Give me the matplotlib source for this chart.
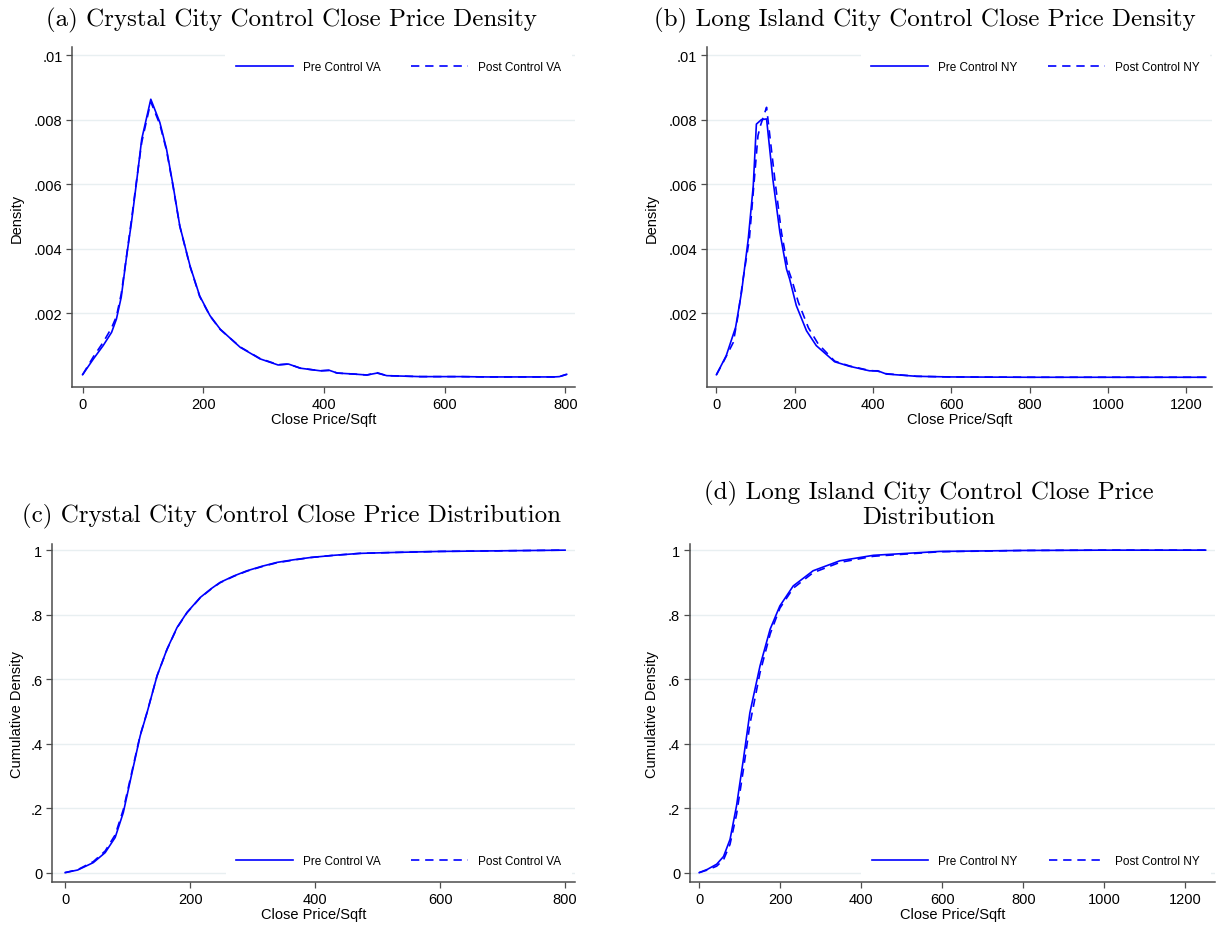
import matplotlib

matplotlib.use("Agg")
import matplotlib.pyplot as plt

plt.rcParams["font.family"] = ["Liberation Sans", "DejaVu Sans"]

# ---- data ----
# (a) Crystal City density
va_den_x = [0, 18, 34, 48, 56, 64, 73, 81, 90, 98, 113, 128, 139, 150, 161, 178,
            194, 211, 228, 261, 294, 324, 341, 361, 394, 408, 422, 449, 471, 488,
            504, 560, 626, 670, 781, 790, 802]
va_den_pre = [0.0001, 0.00059, 0.001, 0.00141, 0.00182, 0.0025, 0.00378, 0.00482,
              0.00616, 0.0074, 0.00863, 0.00791, 0.00709, 0.00595, 0.00471, 0.00347,
              0.00254, 0.00193, 0.00151, 0.00095, 0.00059, 0.0004, 0.00043, 0.0003,
              0.00022, 0.00024, 0.00015, 0.00012, 0.00009, 0.00015, 0.00007, 0.00004,
              0.00004, 0.00003, 0.00003, 0.00004, 0.00011]
va_den_post = [0.0001, 0.00066, 0.0011, 0.00155, 0.0019, 0.0026, 0.0038, 0.0049,
               0.0062, 0.0073, 0.00855, 0.00785, 0.00705, 0.00592, 0.0047, 0.00345,
               0.00252, 0.00192, 0.0015, 0.00096, 0.0006, 0.00041, 0.00043, 0.0003,
               0.00022, 0.00023, 0.00015, 0.00012, 0.00009, 0.00016, 0.00007, 0.00004,
               0.00004, 0.00003, 0.00003, 0.00004, 0.00011]

# (b) Long Island City density
ny_den_pre_x = [0, 25, 49, 64, 81, 94, 102, 115, 128, 144, 162, 179, 187, 204, 230,
                255, 302, 340, 391, 412, 434, 511, 596, 800, 1000, 1250]
ny_den_pre = [0.0001, 0.00069, 0.00157, 0.00265, 0.00428, 0.00595, 0.00786, 0.0080,
              0.00802, 0.00616, 0.00451, 0.00337, 0.00306, 0.00224, 0.00146, 0.001,
              0.0005, 0.00036, 0.00022, 0.00022, 0.00012, 0.00005, 0.00003, 0.00002,
              0.00002, 0.00002]
ny_den_post_x = [0, 17, 43, 55, 68, 84, 106, 112, 128, 149, 166, 183, 192, 209, 235,
                 260, 302, 340, 391, 412, 434, 511, 596, 800, 1000, 1250]
ny_den_post = [0.0001, 0.00048, 0.0011, 0.00193, 0.00306, 0.0043, 0.0075, 0.0078,
               0.00838, 0.00616, 0.00451, 0.00337, 0.00306, 0.00235, 0.00155, 0.00105,
               0.00052, 0.00037, 0.00023, 0.00021, 0.00013, 0.00005, 0.00003, 0.00002,
               0.00002, 0.00002]

# (c) Crystal City cumulative
va_cdf_x = [0, 20, 45, 64, 80, 93, 107, 120, 131, 147, 163, 179, 195, 216, 234, 248,
            270, 291, 315, 339, 365, 392, 430, 472, 530, 600, 700, 800]
va_cdf_pre = [0, 0.008, 0.031, 0.062, 0.109, 0.186, 0.31, 0.424, 0.496, 0.61, 0.693,
              0.76, 0.807, 0.853, 0.881, 0.90, 0.92, 0.936, 0.950, 0.962, 0.970,
              0.977, 0.984, 0.99, 0.993, 0.996, 0.998, 1.0]
va_cdf_post = [0, 0.009, 0.034, 0.067, 0.117, 0.195, 0.315, 0.426, 0.497, 0.61, 0.692,
               0.759, 0.806, 0.852, 0.880, 0.899, 0.919, 0.935, 0.949, 0.961, 0.969,
               0.977, 0.984, 0.99, 0.993, 0.996, 0.998, 1.0]

# (d) Long Island City cumulative
ny_cdf_x = [0, 20, 43, 60, 76, 92, 109, 125, 150, 175, 199, 232, 281, 347, 430, 594,
            800, 1000, 1250]
ny_cdf_pre = [0, 0.01, 0.026, 0.05, 0.103, 0.207, 0.352, 0.496, 0.641, 0.755, 0.827,
              0.889, 0.936, 0.967, 0.984, 0.996, 0.999, 1.0, 1.0]
ny_cdf_post = [0, 0.008, 0.02, 0.04, 0.088, 0.18, 0.32, 0.46, 0.62, 0.74, 0.82, 0.882,
               0.93, 0.962, 0.981, 0.995, 0.999, 1.0, 1.0]

den_ticks = [0.002, 0.004, 0.006, 0.008, 0.01]
den_labels = [".002", ".004", ".006", ".008", ".01"]
cdf_ticks = [0, 0.2, 0.4, 0.6, 0.8, 1.0]
cdf_labels = ["0", ".2", ".4", ".6", ".8", "1"]
va_xticks = [0, 200, 400, 600, 800]
ny_xticks = [0, 200, 400, 600, 800, 1000, 1200]

BLUE = "#0000ff"
GRID = "#e8eff1"
AXC = "#4d4d4d"


def style_axis(ax, xticks, xlim, yticks, ylabels, ylim, ylabel, ylab_x):
    ax.set_xlim(*xlim)
    ax.set_ylim(*ylim)
    ax.set_xticks(xticks)
    ax.set_yticks(yticks)
    ax.set_yticklabels(ylabels)
    ax.grid(axis="y", color=GRID, linewidth=1.0)
    ax.set_axisbelow(True)
    for s in ("top", "right"):
        ax.spines[s].set_visible(False)
    for s in ("left", "bottom"):
        ax.spines[s].set_color(AXC)
        ax.spines[s].set_linewidth(1.1)
    ax.tick_params(direction="out", length=4, width=0.9, color=AXC, labelsize=10.5,
                   pad=3)
    ax.set_xlabel("Close Price/Sqft", fontsize=10.5, labelpad=1)
    ax.set_ylabel(ylabel, fontsize=10.5)
    ax.yaxis.set_label_coords(ylab_x, 0.5)


def add_lines(ax, x_pre, y_pre, x_post, y_post, tag, legend_y, legend_x):
    ax.plot(x_pre, y_pre, color=BLUE, lw=1.2, label=f"Pre Control {tag}")
    ax.plot(x_post, y_post, color=BLUE, lw=1.2, ls=(0, (5, 3.5)),
            label=f"Post Control {tag}")
    leg = ax.legend(loc="center right", bbox_to_anchor=(legend_x, legend_y), ncol=2,
                    fontsize=8.5, handlelength=4.8, handletextpad=0.85,
                    columnspacing=2.6, borderpad=0.9, frameon=True, fancybox=False)
    leg.get_frame().set_facecolor("white")
    leg.get_frame().set_edgecolor("none")
    leg.get_frame().set_alpha(1.0)


fig = plt.figure(figsize=(12.22, 9.28), dpi=100)

ax_a = fig.add_axes([0.0592, 0.5816, 0.4114, 0.3664])
ax_b = fig.add_axes([0.5783, 0.5816, 0.4135, 0.3664])
ax_c = fig.add_axes([0.0426, 0.0482, 0.4280, 0.3645])
ax_d = fig.add_axes([0.5646, 0.0482, 0.4296, 0.3645])

den_ylim = (-0.00029, 0.01024)
cdf_ylim = (-0.030, 1.019)

add_lines(ax_a, va_den_x, va_den_pre, va_den_x, va_den_post, "VA", 0.942, 1.005)
style_axis(ax_a, va_xticks, (-17, 816), den_ticks, den_labels, den_ylim, "Density",
           -0.096)

add_lines(ax_b, ny_den_pre_x, ny_den_pre, ny_den_post_x, ny_den_post, "NY", 0.942,
          1.008)
style_axis(ax_b, ny_xticks, (-25, 1266), den_ticks, den_labels, den_ylim, "Density",
           -0.094)

add_lines(ax_c, va_cdf_x, va_cdf_pre, va_cdf_x, va_cdf_post, "VA", 0.063, 1.005)
style_axis(ax_c, va_xticks, (-21, 816), cdf_ticks, cdf_labels, cdf_ylim,
           "Cumulative Density", -0.054)

add_lines(ax_d, ny_cdf_x, ny_cdf_pre, ny_cdf_x, ny_cdf_post, "NY", 0.063, 1.003)
style_axis(ax_d, ny_xticks, (-23, 1273), cdf_ticks, cdf_labels, cdf_ylim,
           "Cumulative Density", -0.059)

title_kw = dict(family="cmr10", fontsize=18, ha="center", va="bottom")
fig.text(291 / 1222, 1 - 33 / 928, "(a) Crystal City Control Close Price Density",
         **title_kw)
fig.text(925 / 1222, 1 - 33 / 928, "(b) Long Island City Control Close Price Density",
         **title_kw)
fig.text(291 / 1222, 1 - 529 / 928, "(c) Crystal City Control Close Price Distribution",
         **title_kw)
fig.text(929 / 1222, 1 - 529 / 928,
         "(d) Long Island City Control Close Price\nDistribution",
         multialignment="center", linespacing=1.05, **title_kw)

fig.savefig("out.png", dpi=100)
plt.close(fig)
